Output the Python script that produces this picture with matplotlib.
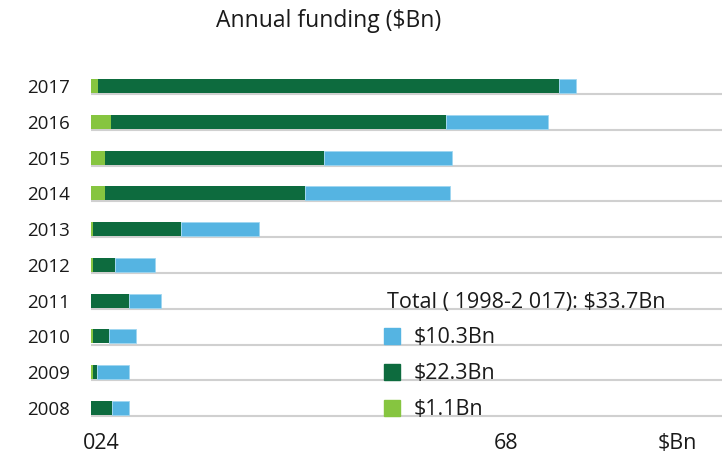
import matplotlib
matplotlib.use("Agg")
import matplotlib.pyplot as plt
from matplotlib.patches import Rectangle
import numpy as np

plt.rcParams['font.family'] = ['Open Sans', 'DejaVu Sans']

years = ["2008", "2009", "2010", "2011", "2012", "2013", "2014", "2015", "2016", "2017"]
light_green = [0.01, 0.03, 0.03, 0.00, 0.04, 0.03, 0.22, 0.22, 0.32, 0.11]
dark_green = [0.33, 0.07, 0.26, 0.61, 0.34, 1.40, 3.18, 3.48, 5.31, 7.31]
blue = [0.27, 0.50, 0.42, 0.50, 0.64, 1.23, 2.29, 2.03, 1.62, 0.27]

title = "Annual funding ($Bn)"
tick_labels = ["024", "68", "$Bn"]
legend_title = "Total ( 1998-2 017): $33.7Bn"
legend_labels = ["$10.3Bn", "$22.3Bn", "$1.1Bn"]

C_LG = '#86c540'
C_DG = '#0d6b3e'
C_BL = '#55b4e2'
TXT = '#1a1a1a'

W, H = 722, 457
fig = plt.figure(figsize=(W / 100, H / 100), dpi=100)
# axes: x from px 90.7 to 722; y rows 2017 at px 86, 2008 at px 408
ax = fig.add_axes([90.7 / W, (H - 425.9) / H, 1 - 90.7 / W, (425.9 - 61) / H])
ax.set_xlim(0, 10)
ax.set_ylim(-0.5, 9.7)

y = np.arange(len(years))
lg = np.array(light_green)
dg = np.array(dark_green)
bl = np.array(blue)
bh = 0.39

for yi in y:
    ax.axhline(yi - 0.225, color='#d0d0d0', lw=1.5, zorder=1)

ax.barh(y, lg, height=bh, color=C_LG, zorder=3)
ax.barh(y, dg, left=lg, height=bh, color=C_DG, zorder=3)
ax.barh(y, bl, left=lg + dg, height=bh, color=C_BL, edgecolor='#9fd6f0', linewidth=0.6, zorder=3)

for s in ax.spines.values():
    s.set_visible(False)

ax.set_yticks(y)
ax.set_yticklabels(years, fontsize=13.5, color=TXT)
ax.tick_params(axis='y', length=0, pad=15)

ax.set_xticks([0.16, 6.58, 9.29])
ax.set_xticklabels(tick_labels, fontsize=15.5, color=TXT)
ax.tick_params(axis='x', length=0, pad=5)

fig.text(329 / W, 1 - 21 / H, title, fontsize=16.5, color=TXT, ha='center', va='center')

# legend
px = 1 / 63.13
ax.text((387 - 90.7) * px, 2.95, legend_title, fontsize=15.5, color=TXT, ha='left', va='center', zorder=5)
cols = [C_BL, C_DG, C_LG]
for i, (lab, c) in enumerate(zip(legend_labels, cols)):
    ry = 2 - i
    ax.add_patch(Rectangle(((384 - 90.7) * px, ry - 8 / 35.78), 16 * px, 16 / 35.78, color=c, zorder=5))
    ax.text((414 - 90.7) * px, ry - 0.03, lab, fontsize=15.5, color=TXT, ha='left', va='center', zorder=5)

fig.savefig("out.png", dpi=100)
